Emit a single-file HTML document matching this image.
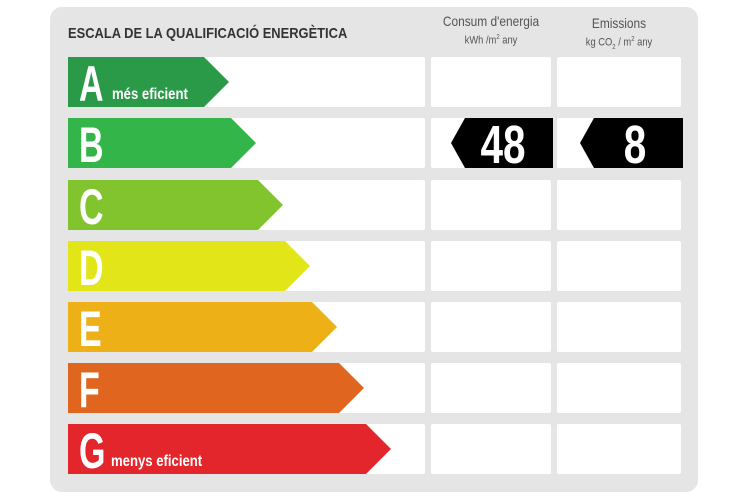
<!DOCTYPE html>
<html><head><style>
body{margin:0;width:750px;height:500px;background:#fff;position:relative;overflow:hidden;font-family:"Liberation Sans",sans-serif}
.panel{position:absolute;left:50px;top:7px;width:648px;height:485px;background:#e5e5e5;border-radius:12px}
.t{position:absolute;white-space:nowrap}
.cell{position:absolute;background:#fff;border-radius:2px}
.bar{position:absolute;left:68px;height:50px}
.L{position:absolute;left:11px;top:-2px;color:#fff;font-weight:bold;font-size:50px;transform:scaleX(.68);transform-origin:left top}
.s{position:absolute;left:44px;top:29px;color:#fff;font-weight:bold;font-size:16px;transform:scaleX(.82);transform-origin:left top;white-space:nowrap}
.num{position:absolute;color:#fff;font-weight:bold;font-size:54px;transform:scaleX(.75);top:-4px}
</style></head><body>
<div class="panel"></div>
<div class="t" style="left:68px;top:25px;font-size:15px;font-weight:bold;color:#333;transform:scaleX(.86);transform-origin:left top">ESCALA DE LA QUALIFICACIÓ ENERGÈTICA</div>
<div class="t" style="left:431px;width:120px;top:13px;text-align:center;font-size:14px;color:#555;transform:scaleX(.85)">Consum d'energia</div>
<div class="t" style="left:431px;width:120px;top:34px;text-align:center;font-size:11px;color:#555;transform:scaleX(.85)">kWh /m<sup style="font-size:7px">2</sup> any</div>
<div class="t" style="left:557px;width:124px;top:15px;text-align:center;font-size:14px;color:#555;transform:scaleX(.85)">Emissions</div>
<div class="t" style="left:557px;width:124px;top:36px;text-align:center;font-size:11px;color:#555;transform:scaleX(.85)">kg CO<sub style="font-size:7px">2</sub> / m<sup style="font-size:7px">2</sup> any</div>
<div id="rows"></div>
<script>
var cols=["#2a9a48","#34b54a","#82c42e","#e2e518","#edb016","#e0651f","#e3262b"];
var L="ABCDEFG",tops=[57,118,180,241,302,363,424],h="";
for(var i=0;i<7;i++){var y=tops[i],tip=229+27*i,w=tip-68;
h+='<div class="cell" style="left:68px;top:'+y+'px;width:357px;height:50px"></div>';
h+='<div class="cell" style="left:431px;top:'+y+'px;width:120px;height:50px"></div>';
h+='<div class="cell" style="left:557px;top:'+y+'px;width:124px;height:50px"></div>';
h+='<div class="bar" style="top:'+y+'px;width:'+w+'px;background:'+cols[i]+';clip-path:polygon(0 0,'+(w-25)+'px 0,100% 50%,'+(w-25)+'px 100%,0 100%)"><div class="L">'+L[i]+'</div>'+(i==0?'<div class="s">més eficient</div>':'')+(i==6?'<div class="s" style="left:43px">menys eficient</div>':'')+'</div>';}
h+='<div style="position:absolute;left:451px;top:118px;width:102px;height:50px;background:#000;clip-path:polygon(14px 0,100% 0,100% 100%,14px 100%,0 50%)"><div class="num" style="left:22px">48</div></div>';
h+='<div style="position:absolute;left:580px;top:118px;width:103px;height:50px;background:#000;clip-path:polygon(14px 0,100% 0,100% 100%,14px 100%,0 50%)"><div class="num" style="left:40px">8</div></div>';
document.getElementById("rows").innerHTML=h;
</script>
</body></html>
